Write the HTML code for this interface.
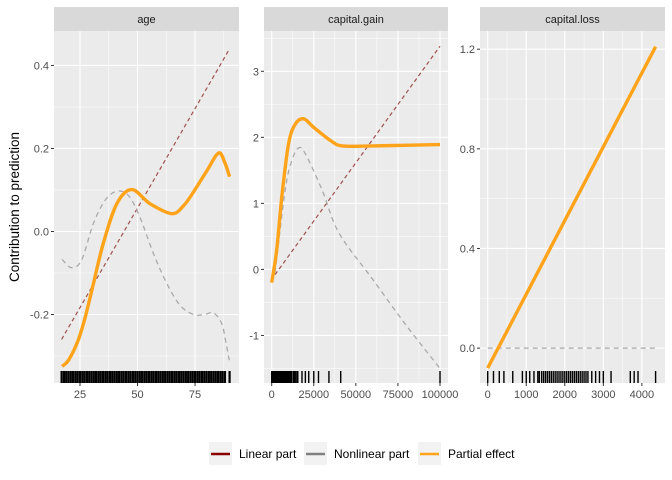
<!DOCTYPE html>
<html><head><meta charset="utf-8"><style>
body{margin:0;background:#fff;font-family:"Liberation Sans",sans-serif}
svg{display:block}
</style></head><body>
<svg id="c" width="672" height="480" xmlns="http://www.w3.org/2000/svg"></svg>
<script>
// ---- data ----
const panelNames=["age","capital.gain","capital.loss"];
const ageX=[17.2,20,24,27,30,35.1,41,47.5,55.4,64.9,70,74.3,80,85.2,88,90];
const agePartial=[-0.325,-0.31,-0.265,-0.212,-0.145,-0.029,0.067,0.101,0.067,0.043,0.062,0.095,0.145,0.189,0.165,0.132];
const ageNlX=[17.2,21.2,25.7,30.8,35.9,41,46,51,56.9,62.7,68.5,74.3,79,83,86.6,88.5,90];
const ageNonlinear=[-0.067,-0.087,-0.069,0.019,0.075,0.097,0.087,0.035,-0.053,-0.125,-0.178,-0.2,-0.2,-0.196,-0.222,-0.27,-0.314];
const ageLinX=[17,90];
const ageLinear=[-0.26,0.44];
const ageRug=[17,18,19,20,21,22,23,24,25,26,27,28,29,30,31,32,33,34,35,36,37,38,39,40,41,42,43,44,45,46,47,48,49,50,51,52,53,54,55,56,57,58,59,60,61,62,63,64,65,66,67,68,69,70,71,72,73,74,75,76,77,78,79,80,81,82,83,84,85,86,87,88,90];
const gainX=[0,3000,6000,10000,14000,19000,25000,35000,42000,60000,100000];
const gainPartial=[-0.2,0.3,1.1,1.9,2.2,2.28,2.15,1.95,1.87,1.87,1.89];
const gainNlX=[2000,8000,12000,16000,20000,30000,40000,60000,80000,100000];
const gainNonlinear=[-0.05,1.2,1.65,1.84,1.75,1.2,0.55,-0.15,-0.85,-1.5];
const gainLinX=[2000,100000];
const gainLinear=[-0.08,3.38];
const gainRug=[0,500,1000,1500,2000,2500,3000,3500,4000,4500,5000,5500,6000,6500,7000,7500,8000,8500,9000,9500,10000,10500,11000,11500,12000,13000,13500,14000,15000,15000,15500,18000,20000,22000,25000,27800,34000,41000,99999];
const lossX=[0,4356];
const lossPartial=[-0.08,1.21];
const lossNlX=[0,4356];
const lossNonlinear=[0,0];
const lossRug=[0,150,300,420,650,900,1000,1090,1200,1300,1340,1400,1450,1500,1550,1600,1650,1700,1750,1800,1850,1900,1950,2000,2050,2100,2150,2200,2250,2300,2350,2400,2450,2500,2550,2600,2700,2800,2900,3000,3200,3700,3800,3900,4356];
const yTicks=[[-0.2,0,0.2,0.4],[-1,0,1,2,3],[0,0.4,0.8,1.2]];
const yTickLabels=[["-0.2","0.0","0.2","0.4"],["-1","0","1","2","3"],["0.0","0.4","0.8","1.2"]];
const yMinor=[[-0.3,-0.1,0.1,0.3],[-1.5,-0.5,0.5,1.5,2.5,3.5],[0.2,0.6,1.0]];
const xTicks=[[25,50,75],[0,25000,50000,75000,100000],[0,1000,2000,3000,4000]];
const xTickLabels=[["25","50","75"],["0","25000","50000","75000","100000"],["0","1000","2000","3000","4000"]];
const xMinor=[[37.5,62.5,87.5],[12500,37500,62500,87500],[500,1500,2500,3500]];
// ---- layout ----
const P=[{l:54,r:239,xd:[13.7,94.1],yd:[-0.365,0.483]},{l:264,r:448,xd:[-4575,104750],yd:[-1.72,3.61]},{l:480,r:665,xd:[-200,4600],yd:[-0.14,1.273]}];
const plotTop=31,plotBot=383;
const series=[
 {px:ageX,py:agePartial,nx:ageNlX,ny:ageNonlinear,lx:ageLinX,ly:ageLinear,rug:ageRug},
 {px:gainX,py:gainPartial,nx:gainNlX,ny:gainNonlinear,lx:gainLinX,ly:gainLinear,rug:gainRug},
 {px:lossX,py:lossPartial,nx:lossNlX,ny:lossNonlinear,lx:null,ly:null,rug:lossRug}];
const svg=document.getElementById('c');const NS="http://www.w3.org/2000/svg";
function mk(t,a,p){const e=document.createElementNS(NS,t);for(const k in a)e.setAttribute(k,a[k]);(p||svg).appendChild(e);return e;}
function spline(pts){if(pts.length<3)return "M"+pts.map(p=>p.join(",")).join("L");let d="M"+pts[0].join(",");for(let i=0;i<pts.length-1;i++){const p0=pts[i-1]||pts[i],p1=pts[i],p2=pts[i+1],p3=pts[i+2]||p2;const c1=[p1[0]+(p2[0]-p0[0])/6,p1[1]+(p2[1]-p0[1])/6],c2=[p2[0]-(p3[0]-p1[0])/6,p2[1]-(p3[1]-p1[1])/6];d+="C"+c1.join(",")+" "+c2.join(",")+" "+p2.join(",");}return d;}
P.forEach((p,i)=>{
 const X=v=>p.l+(v-p.xd[0])/(p.xd[1]-p.xd[0])*(p.r-p.l);
 const Y=v=>plotBot-(v-p.yd[0])/(p.yd[1]-p.yd[0])*(plotBot-plotTop);
 const g=mk('g',{});
 
 
 const strip=mk('rect',{x:p.l,y:7,width:p.r-p.l,height:24,fill:'#d9d9d9'},g);
 
 
 const st=mk('text',{x:(p.l+p.r)/2,y:23,'text-anchor':'middle','font-size':11,fill:'#1a1a1a'},g);st.textContent=panelNames[i];
 
 
 const bg=mk('rect',{x:p.l,y:plotTop,width:p.r-p.l,height:plotBot-plotTop,fill:'#ebebeb'},g);
 
 
 yMinor[i].forEach(v=>{const y=Y(v);if(y>plotTop&&y<plotBot)mk('line',{x1:p.l,x2:p.r,y1:y,y2:y,stroke:'#fff','stroke-width':0.5},g);});
 xMinor[i].forEach(v=>mk('line',{x1:X(v),x2:X(v),y1:plotTop,y2:plotBot,stroke:'#fff','stroke-width':0.5},g));
 yTicks[i].forEach((v,j)=>{const y=Y(v);mk('line',{x1:p.l,x2:p.r,y1:y,y2:y,stroke:'#fff','stroke-width':1.1},g);mk('line',{x1:p.l-3,x2:p.l,y1:y,y2:y,stroke:'#333','stroke-width':1},g);const t=mk('text',{x:p.l-5,y:y+4,'text-anchor':'end','font-size':11,fill:'#4d4d4d'},g);t.textContent=yTickLabels[i][j];
 
 });
 xTicks[i].forEach((v,j)=>{const x=X(v);mk('line',{x1:x,x2:x,y1:plotTop,y2:plotBot,stroke:'#fff','stroke-width':1.1},g);mk('line',{x1:x,x2:x,y1:plotBot,y2:plotBot+3,stroke:'#333','stroke-width':1},g);const t=mk('text',{x:x,y:plotBot+15,'text-anchor':'middle','font-size':11,fill:'#4d4d4d'},g);t.textContent=xTickLabels[i][j];
 
 });
 const s=series[i];
 s.rug.forEach(v=>{const r=mk('line',{x1:X(v),x2:X(v),y1:371,y2:383,stroke:'#000','stroke-width':i==0?2.2:1.4},g);
 
 });
 if(s.lx){const l=mk('path',{d:spline(s.lx.map((v,k)=>[X(v),Y(s.ly[k])])),fill:'none',stroke:'#a0524f','stroke-width':1.2,'stroke-dasharray':'4,3'},g);
 
 }
 const n=mk('path',{d:spline(s.nx.map((v,k)=>[X(v),Y(s.ny[k])])),fill:'none',stroke:'#aaaaaa','stroke-width':1.3,'stroke-dasharray':'5,4'},g);
 
 
 const pe=mk('path',{d:spline(s.px.map((v,k)=>[X(v),Y(s.py[k])])),fill:'none',stroke:'#ffa31a','stroke-width':3.4},g);
 
 
});
const yt=mk('text',{x:0,y:0,transform:'translate(19,207) rotate(-90)','text-anchor':'middle','font-size':13.5,fill:'#000'});yt.textContent='Contribution to prediction';


const legendItems=[["Linear part","#8b0000",209],["Nonlinear part","#808080",304],["Partial effect","#ffa31a",418]];
legendItems.forEach(([t,c,x])=>{const g=mk('g',{});
 
 
 mk('rect',{x:x,y:442,width:23,height:23,fill:'#f2f2f2'},g);
 mk('line',{x1:x+2,x2:x+21,y1:454,y2:454,stroke:c,'stroke-width':2.5},g);const tx=mk('text',{x:x+30,y:458,'font-size':12,fill:'#000'},g);tx.textContent=t;});
</script>
</body></html>
